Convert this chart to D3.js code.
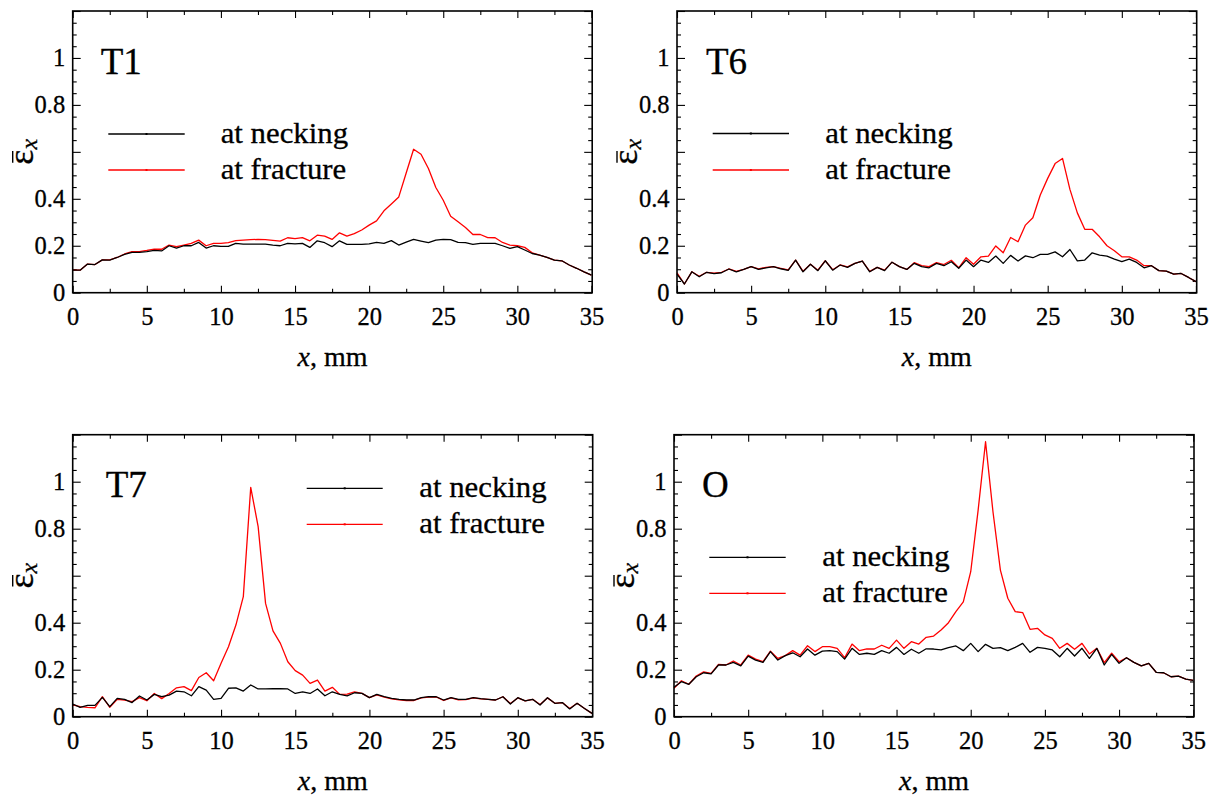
<!DOCTYPE html>
<html><head><meta charset="utf-8">
<script src="https://cdn.jsdelivr.net/npm/d3@7"></script>
<style>
body{margin:0;background:#fff}
svg{display:block}
text{font-family:"Liberation Serif","Times New Roman",serif;fill:#000;stroke:#000;stroke-width:0.3px}
</style>
</head><body>
<svg id="chart" width="1215" height="801"></svg>
<script>
// ---------- data ----------
const xPositions = [0,0.5,1,1.5,2,2.5,3,3.5,4,4.5,5,5.5,6,6.5,7,7.5,8,8.5,9,9.5,10,10.5,11,11.5,12,12.5,13,13.5,14,14.5,15,15.5,16,16.5,17,17.5,18,18.5,19,19.5,20,20.5,21,21.5,22,22.5,23,23.5,24,24.5,25,25.5,26,26.5,27,27.5,28,28.5,29,29.5,30,30.5,31,31.5,32,32.5,33,33.5,34,34.5,35];

const t1Necking = [0.096,0.096,0.122,0.12,0.14,0.139,0.15,0.163,0.172,0.172,
 0.175,0.18,0.178,0.2,0.19,0.2,0.2,0.214,0.19,0.2,
 0.197,0.197,0.21,0.207,0.207,0.207,0.207,0.203,0.2,0.21,
 0.208,0.21,0.193,0.221,0.213,0.196,0.221,0.206,0.206,0.206,
 0.208,0.214,0.21,0.222,0.203,0.215,0.227,0.22,0.213,0.224,
 0.227,0.226,0.214,0.213,0.206,0.21,0.21,0.21,0.2,0.189,
 0.196,0.182,0.167,0.16,0.15,0.139,0.136,0.118,0.104,0.089,
 0.075];
const t1Fracture = [0.096,0.096,0.122,0.12,0.14,0.14,0.15,0.165,0.175,0.175,
 0.18,0.186,0.185,0.203,0.196,0.203,0.21,0.224,0.2,0.21,
 0.21,0.213,0.222,0.224,0.226,0.227,0.226,0.223,0.22,0.234,
 0.23,0.235,0.221,0.245,0.241,0.227,0.255,0.241,0.252,0.267,
 0.288,0.306,0.349,0.378,0.408,0.51,0.611,0.59,0.529,0.448,
 0.394,0.326,0.302,0.278,0.248,0.248,0.235,0.234,0.214,0.203,
 0.2,0.193,0.17,0.16,0.15,0.139,0.136,0.118,0.104,0.089,
 0.075];

const t6Necking = [0.079,0.037,0.089,0.068,0.087,0.081,0.085,0.101,0.089,0.099,
 0.111,0.099,0.106,0.111,0.102,0.095,0.139,0.089,0.121,0.094,
 0.136,0.096,0.118,0.108,0.125,0.135,0.089,0.108,0.094,0.13,
 0.111,0.099,0.125,0.111,0.106,0.125,0.115,0.132,0.104,0.139,
 0.111,0.139,0.129,0.156,0.125,0.159,0.135,0.157,0.149,0.163,
 0.163,0.174,0.153,0.184,0.136,0.139,0.17,0.16,0.156,0.143,
 0.132,0.143,0.129,0.106,0.115,0.094,0.092,0.079,0.082,0.065,
 0.047];
const t6Fracture = [0.085,0.037,0.089,0.07,0.087,0.083,0.087,0.101,0.091,0.099,
 0.111,0.101,0.108,0.111,0.104,0.097,0.139,0.091,0.121,0.096,
 0.136,0.098,0.118,0.11,0.125,0.135,0.091,0.108,0.096,0.13,
 0.111,0.099,0.128,0.115,0.111,0.128,0.12,0.138,0.106,0.149,
 0.121,0.153,0.156,0.199,0.17,0.235,0.217,0.288,0.319,0.416,
 0.487,0.55,0.572,0.44,0.34,0.27,0.27,0.238,0.2,0.179,
 0.153,0.153,0.139,0.115,0.115,0.094,0.092,0.079,0.082,0.065,
 0.047];

const t7Necking = [0.054,0.04,0.048,0.048,0.082,0.043,0.078,0.074,0.06,0.088,
 0.071,0.095,0.085,0.092,0.109,0.106,0.089,0.128,0.113,0.074,
 0.078,0.121,0.123,0.109,0.135,0.118,0.118,0.119,0.119,0.118,
 0.099,0.106,0.099,0.118,0.089,0.106,0.095,0.089,0.102,0.099,
 0.081,0.095,0.085,0.078,0.074,0.071,0.071,0.081,0.085,0.085,
 0.071,0.081,0.074,0.074,0.081,0.077,0.074,0.071,0.085,0.054,
 0.081,0.067,0.074,0.05,0.081,0.057,0.06,0.033,0.057,0.035,
 0.014];
const t7Fracture = [0.05,0.043,0.04,0.038,0.085,0.04,0.074,0.071,0.064,0.081,
 0.068,0.099,0.077,0.099,0.123,0.128,0.111,0.167,0.187,0.153,
 0.227,0.298,0.39,0.511,0.976,0.809,0.482,0.365,0.312,0.234,
 0.196,0.177,0.142,0.156,0.109,0.125,0.095,0.096,0.106,0.099,
 0.081,0.093,0.083,0.076,0.072,0.069,0.069,0.08,0.083,0.084,
 0.069,0.08,0.072,0.073,0.08,0.076,0.074,0.071,0.085,0.056,
 0.08,0.067,0.074,0.052,0.08,0.057,0.06,0.035,0.057,0.035,
 0.014];

const oNecking = [0.125,0.149,0.138,0.17,0.187,0.182,0.22,0.22,0.231,0.216,
 0.258,0.241,0.231,0.277,0.241,0.26,0.272,0.255,0.288,0.262,
 0.279,0.281,0.277,0.245,0.291,0.265,0.27,0.265,0.281,0.27,
 0.295,0.265,0.287,0.27,0.289,0.288,0.284,0.294,0.301,0.281,
 0.312,0.277,0.308,0.291,0.294,0.281,0.295,0.312,0.274,0.295,
 0.291,0.284,0.255,0.291,0.258,0.291,0.248,0.291,0.22,0.265,
 0.227,0.251,0.231,0.216,0.227,0.189,0.187,0.17,0.173,0.16,
 0.155];
const oFracture = [0.121,0.153,0.138,0.173,0.191,0.184,0.223,0.22,0.237,0.22,
 0.262,0.245,0.234,0.279,0.248,0.26,0.281,0.262,0.302,0.277,
 0.298,0.298,0.291,0.251,0.309,0.281,0.289,0.288,0.304,0.291,
 0.326,0.291,0.319,0.309,0.338,0.343,0.369,0.4,0.447,0.489,
 0.617,0.879,1.17,0.872,0.624,0.504,0.447,0.443,0.372,0.376,
 0.348,0.333,0.291,0.312,0.287,0.312,0.267,0.291,0.23,0.27,
 0.234,0.251,0.231,0.216,0.227,0.189,0.187,0.17,0.173,0.16,
 0.155];

const panelNames = ["T1", "T6", "T7", "O"];
const seriesLabels = ["at necking", "at fracture"];
const seriesColors = ["#000000", "#ff0000"];
const xTicks = [0,5,10,15,20,25,30,35];
const xMinorTicks = [2.5,7.5,12.5,17.5,22.5,27.5,32.5];
const yTicks = [0,0.2,0.4,0.6,0.8,1,1.2];
const yHiddenLabels = [0.6,1.2];
const yMinorTicks = [0.05,0.1,0.15,0.25,0.3,0.35,0.45,0.5,0.55,0.65,0.7,0.75,0.85,0.9,0.95,1.05,1.1,1.15];
const xDomain = [0, 35.05];
const yDomain = [0, 1.2];
const xAxisTitle = "mm";

// ---------- layout ----------
const panels = [
  {name:panelNames[0], necking:t1Necking, fracture:t1Fracture, box:{l:72.7,t:11,r:592.2,b:292.7}, titleDx:28, leg:{x1:35.6,x2:112,yN:123,yF:159,tx:148}},
  {name:panelNames[1], necking:t6Necking, fracture:t6Fracture, box:{l:677,t:11,r:1196.7,b:292.7}, titleDx:29, leg:{x1:35.7,x2:112,yN:122.5,yF:159,tx:148.3}},
  {name:panelNames[2], necking:t7Necking, fracture:t7Fracture, box:{l:72.7,t:434.7,r:592.7,b:716.7}, titleDx:33, leg:{x1:234,x2:310,yN:53.6,yF:89.6,tx:346.6}},
  {name:panelNames[3], necking:oNecking,  fracture:oFracture,  box:{l:674,t:434.7,r:1194,b:716.7}, titleDx:28, leg:{x1:35.3,x2:111.7,yN:122.6,yF:158.6,tx:148.3}}
];

const svg = d3.select("#chart");
const FONT = '"Liberation Serif","Times New Roman",serif';

panels.forEach(p => {
  const B = p.box;
  const x = d3.scaleLinear().domain(xDomain).range([B.l, B.r]);
  const y = d3.scaleLinear().domain(yDomain).range([B.b, B.t]);
  const g = svg.append("g");

  const fmt = d => yHiddenLabels.some(h => Math.abs(h - d) < 1e-9) ? "" : d3.format("~g")(d);

  function styleAxis(sel){
    sel.attr("font-family", FONT);
    sel.select(".domain").remove();
    sel.selectAll(".tick line").attr("stroke","#000").attr("stroke-width",1.1);
    sel.selectAll(".tick text").style("font-family",FONT).style("font-size","24.5px").attr("fill","#000");
  }

  // bottom
  g.append("g").attr("transform",`translate(0,${B.b})`)
    .call(d3.axisBottom(x).tickValues(xTicks).tickSize(-7).tickPadding(14.5).tickFormat(d3.format("d")))
    .call(styleAxis);
  g.append("g").attr("transform",`translate(0,${B.b})`)
    .call(d3.axisBottom(x).tickValues(xMinorTicks).tickSize(-4).tickFormat(""))
    .call(styleAxis);
  // top
  g.append("g").attr("transform",`translate(0,${B.t})`)
    .call(d3.axisTop(x).tickValues(xTicks).tickSize(-7).tickFormat(""))
    .call(styleAxis);
  g.append("g").attr("transform",`translate(0,${B.t})`)
    .call(d3.axisTop(x).tickValues(xMinorTicks).tickSize(-4).tickFormat(""))
    .call(styleAxis);
  // left
  g.append("g").attr("transform",`translate(${B.l},0)`)
    .call(d3.axisLeft(y).tickValues(yTicks).tickSize(-8).tickPadding(7.5).tickFormat(fmt))
    .call(styleAxis);
  g.append("g").attr("transform",`translate(${B.l},0)`)
    .call(d3.axisLeft(y).tickValues(yMinorTicks).tickSize(-4).tickFormat(""))
    .call(styleAxis);
  // right
  g.append("g").attr("transform",`translate(${B.r},0)`)
    .call(d3.axisRight(y).tickValues(yTicks).tickSize(-8).tickFormat(""))
    .call(styleAxis);
  g.append("g").attr("transform",`translate(${B.r},0)`)
    .call(d3.axisRight(y).tickValues(yMinorTicks).tickSize(-4).tickFormat(""))
    .call(styleAxis);

  // series (fracture under necking)
  const line = d3.line().x(d => x(d[0])).y(d => y(d[1]));
  [[p.fracture, seriesColors[1]], [p.necking, seriesColors[0]]].forEach(([vals, col]) => {
    g.append("path")
      .datum(xPositions.map((xv, i) => [xv, vals[i]]))
      .attr("d", line)
      .attr("fill","none")
      .attr("stroke", col)
      .attr("stroke-width", 1.3)
      .attr("stroke-linejoin","round");
  });

  // frame
  g.append("rect").attr("x",B.l).attr("y",B.t).attr("width",B.r-B.l).attr("height",B.b-B.t)
    .attr("fill","none").attr("stroke","#000").attr("stroke-width",1.6);

  // panel title
  g.append("text").attr("x",B.l + p.titleDx).attr("y",B.t + 62.5)
    .attr("font-family",FONT).style("font-size","37px").text(p.name);

  // legend
  const L = p.leg;
  [[L.yN, seriesColors[0], seriesLabels[0]], [L.yF, seriesColors[1], seriesLabels[1]]].forEach(([ly, col, lab]) => {
    g.append("line").attr("x1",B.l+L.x1).attr("x2",B.l+L.x2).attr("y1",B.t+ly).attr("y2",B.t+ly)
      .attr("stroke",col).attr("stroke-width",1.3);
    g.append("rect").attr("x",B.l+(L.x1+L.x2)/2-1).attr("y",B.t+ly-1).attr("width",2).attr("height",2)
      .attr("fill",col);
    g.append("text")
      .attr("transform",`translate(${B.l+L.tx},${B.t+ly+9}) scale(1.08,1)`)
      .attr("font-family",FONT).style("font-size","28.5px").text(lab);
  });

  // x axis title
  const xt = g.append("text").attr("x",(B.l+B.r)/2).attr("y",B.b+73.5)
    .attr("text-anchor","middle").attr("font-family",FONT).style("font-size","28px");
  xt.append("tspan").style("font-style","italic").text("x");
  xt.append("tspan").text(", " + xAxisTitle);

  // y axis title (epsilon with bar, subscript x), rotated
  const cy = (B.t + B.b)/2;
  const yg = g.append("g").attr("transform",`translate(${B.l-40},${cy}) rotate(-90)`);
  const yt = yg.append("text").attr("x",0).attr("y",0).attr("text-anchor","middle")
    .attr("font-family",FONT).style("font-size","36px");
  yt.append("tspan").text("\u03B5");
  yt.append("tspan").attr("dy",4).style("font-style","italic").style("font-size","24px").text("x");
  const ext = yt.node().getExtentOfChar(0);
  yg.append("line").attr("x1",ext.x+2).attr("x2",ext.x+ext.width-1.5).attr("y1",-20).attr("y2",-20)
    .attr("stroke","#000").attr("stroke-width",1.4);
});
</script>
</body></html>
